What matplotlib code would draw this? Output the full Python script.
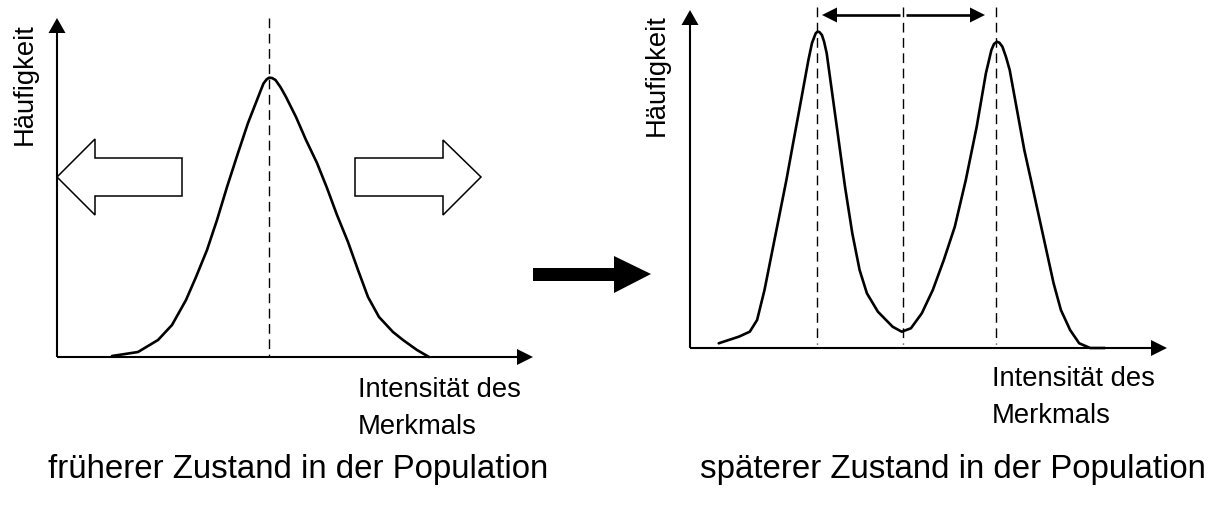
import matplotlib
matplotlib.use("Agg")
import matplotlib.pyplot as plt
from matplotlib.patches import Polygon
from matplotlib.transforms import Affine2D

plt.rcParams['font.family'] = ['Liberation Sans', 'DejaVu Sans']

# ---- data (intensity, frequency) relative to each panel's origin ----
early_x = [55, 81, 101, 115, 129, 139, 150, 160, 170, 181, 191, 200, 203.5, 206.5,
           209.5, 212, 215, 218.5, 223.6, 229, 239, 249, 260, 270, 280, 291, 301, 311,
           322, 336, 346, 360, 372]
early_y = [1, 5, 17, 32, 57, 80, 107, 137, 170, 204, 234, 257, 266, 273.5,
           277.5, 279.3, 279, 277, 269.7, 260, 240, 217, 194, 169, 142, 115, 87, 60,
           40, 25, 17, 7, 0]

late_x = [28.7, 48.8, 59.8, 67.1, 74.5, 81.8, 89.1, 96.4, 103.7, 111.1, 118.4, 122.0,
          125.7, 127.5, 129.4, 131.9, 134.1, 136.7, 142.2, 147.7, 155.0, 162.3, 169.6,
          176.9, 187.9, 202.6, 211.7, 220.9, 231.8, 242.8, 253.8, 264.8, 275.8, 286.7,
          295.9, 301.4, 304.0, 306.9, 309.4, 312.4, 316.0, 319.7, 327.0, 334.3, 341.7,
          349.0, 356.3, 363.6, 370.9, 380.1, 389.2, 400.2, 414.9]
late_y = [4.7, 11.3, 16.3, 28, 58, 94.7, 131.3, 168, 208, 248, 288, 305,
          314.7, 316.3, 316, 313, 306.3, 294.7, 254.7, 214.7, 161.3, 114.7, 78,
          54.7, 36.3, 21.3, 16.3, 19.7, 34.7, 58, 88, 121.3, 168, 221.3,
          274.7, 298, 304, 306.3, 305.3, 301.3, 291, 278, 238, 198, 164.7,
          131.3, 98, 64.7, 38, 18, 4.7, 0, 0]

early_marks = [212]            # mean of early distribution
late_marks = [127, 213, 306]   # two peaks and former mean

y_label = "Häufigkeit"
x_label_1 = "Intensität des"
x_label_2 = "Merkmals"
title_early = "früherer Zustand in der Population"
title_late = "späterer Zustand in der Population"

W, H = 1214, 508
fig = plt.figure(figsize=(W / 100, H / 100), dpi=100)
ax = fig.add_axes([0, 0, 1, 1])
ax.set_xlim(0, W)
ax.set_ylim(H, 0)
ax.axis('off')

K = 'black'


def panel(ox, oy, x_end, y_top, xs, ys, marks, dash_top, dash_bot):
    tr = Affine2D().scale(1, -1).translate(ox, oy) + ax.transData
    ax.plot([ox, ox], [oy, y_top + 15], color=K, lw=1.5, solid_capstyle='butt')
    ax.plot([ox, x_end - 16], [oy, oy], color=K, lw=1.5, solid_capstyle='butt')
    ax.add_patch(Polygon([(ox, y_top), (ox - 8.5, y_top + 15), (ox + 8.5, y_top + 15)],
                         closed=True, color=K, lw=0))
    ax.add_patch(Polygon([(x_end, oy), (x_end - 16, oy - 8), (x_end - 16, oy + 8)],
                         closed=True, color=K, lw=0))
    for m in marks:
        ax.plot([ox + m, ox + m], [dash_top, dash_bot], color=K, lw=1.0,
                linestyle=(0, (7, 4)))
    ax.plot(xs, ys, color=K, lw=1.9, transform=tr, solid_capstyle='round',
            solid_joinstyle='round')


panel(57, 357, 533, 18, early_x, early_y, early_marks, 18, 356)
panel(690, 348, 1167, 10, late_x, late_y, late_marks, 7, 344)

# hollow arrows
ax.add_patch(Polygon([(57, 177), (95, 139), (95, 158), (182, 158), (182, 196),
                      (95, 196), (95, 215)], closed=True, fill=False, ec=K, lw=1.1))
ax.add_patch(Polygon([(355, 158), (443, 158), (443, 140), (481, 177), (443, 215),
                      (443, 196), (355, 196)], closed=True, fill=False, ec=K, lw=1.1))

# big black arrow
ax.add_patch(Polygon([(533, 268), (614, 268), (614, 256), (651, 274), (614, 293),
                      (614, 281), (533, 281)], closed=True, color=K, lw=0))

# top double arrow (split at middle dashed line)
ay = 15
ax.plot([836, 900], [ay, ay], color=K, lw=1.9, solid_capstyle='butt')
ax.plot([906, 971], [ay, ay], color=K, lw=1.9, solid_capstyle='butt')
ax.add_patch(Polygon([(822, ay), (837, ay - 7.5), (837, ay + 7.5)], closed=True, color=K, lw=0))
ax.add_patch(Polygon([(985, ay), (970, ay - 7.5), (970, ay + 7.5)], closed=True, color=K, lw=0))

# texts
fs_y = 19.7
fs_x = 19.7
fs_t = 23.8
ax.text(25, 84, y_label, rotation=90, ha='center', va='center', fontsize=fs_y)
ax.text(657, 75, y_label, rotation=90, ha='center', va='center', fontsize=fs_y)
ax.text(358, 397, x_label_1, ha='left', va='baseline', fontsize=fs_x)
ax.text(358, 434, x_label_2, ha='left', va='baseline', fontsize=fs_x)
ax.text(992, 386, x_label_1, ha='left', va='baseline', fontsize=fs_x)
ax.text(992, 423, x_label_2, ha='left', va='baseline', fontsize=fs_x)
ax.text(298, 478, title_early, ha='center', va='baseline', fontsize=fs_t)
ax.text(953, 478, title_late, ha='center', va='baseline', fontsize=fs_t)

fig.savefig('out.png', dpi=100, facecolor='white')
